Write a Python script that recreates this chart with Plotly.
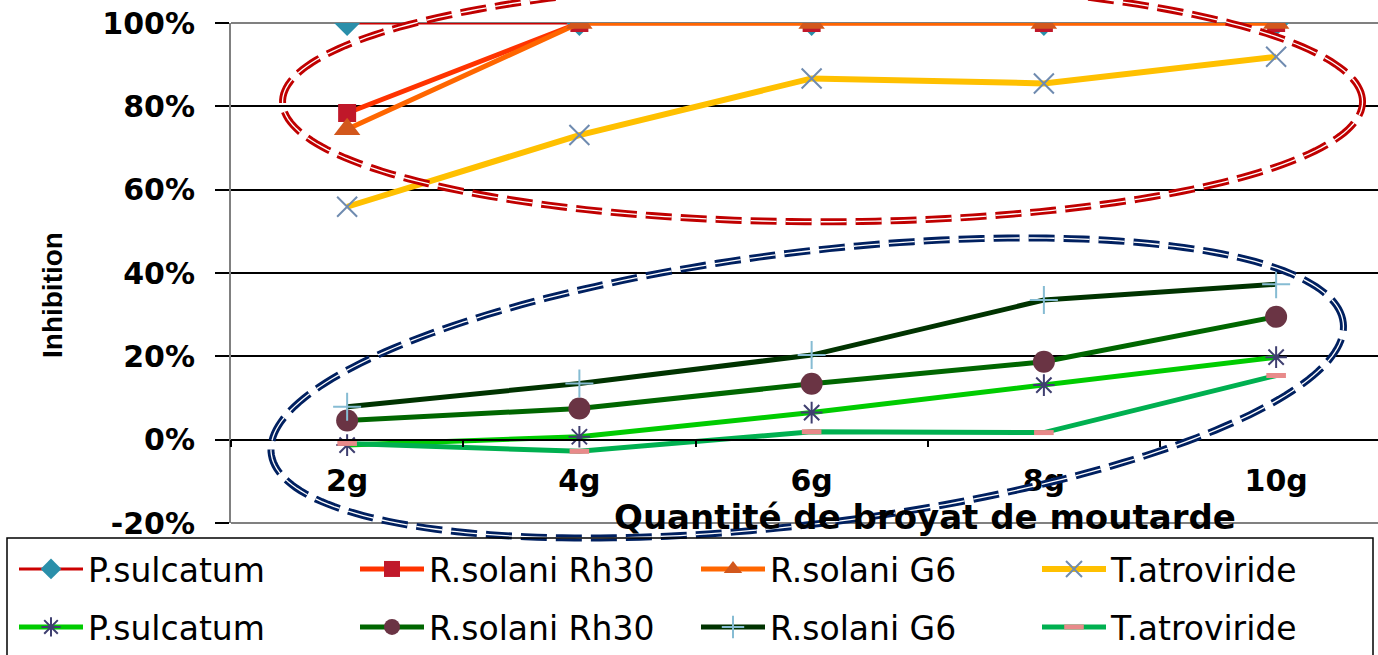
import numpy as np
import plotly.graph_objects as go

# ---- data -------------------------------------------------------------
doses = ["2g", "4g", "6g", "8g", "10g"]
names = ["P.sulcatum", "R.solani Rh30", "R.solani G6", "T.atroviride"]

# upper group of curves
ps_a = [1.00, 1.00, 1.00, 1.00, 1.00]
rh30_a = [0.784, 1.00, 1.00, 1.00, 1.00]
g6_a = [0.745, 1.00, 1.00, 1.00, 1.00]
ta_a = [0.559, 0.731, 0.867, 0.855, 0.919]

# lower group of curves
ps_b = [-0.013, 0.007, 0.065, 0.131, 0.198]
rh30_b = [0.046, 0.075, 0.134, 0.187, 0.295]
g6_b = [0.079, 0.135, 0.203, 0.335, 0.373]
ta_b = [-0.009, -0.028, 0.019, 0.017, 0.154]

y_ticks = [-0.2, 0.0, 0.2, 0.4, 0.6, 0.8, 1.0]
y_labels = ["-20%", "0%", "20%", "40%", "60%", "80%", "100%"]

# ---- geometry ---------------------------------------------------------
W, H = 1378, 655
ML, MR, MT, MB = 231, 0, 23, 132
PW, PH = W - ML - MR, H - MT - MB
X_STEP = 232.25                      # px per category
xr = [0.5, 0.5 + PW / X_STEP]
yr = [-0.2, 1.0]
Y_UNIT = PH / (yr[1] - yr[0])        # px per unit of y

xpos = list(range(1, len(doses) + 1))


def px_to_paper(px, py):
    return (px - ML) / PW, (H - MB - py) / PH


def data_to_paper(xd, yd):
    return (xd - xr[0]) / (xr[1] - xr[0]), (yd - yr[0]) / (yr[1] - yr[0])


def ellipse_path(cx, cy, a_px, b_px, tilt_deg, n=240):
    t = np.linspace(0, 2 * np.pi, n)
    th = np.radians(tilt_deg)
    dx = a_px * np.cos(t) * np.cos(th) - b_px * np.sin(t) * np.sin(th)
    dy = a_px * np.cos(t) * np.sin(th) + b_px * np.sin(t) * np.cos(th)
    xs = cx + dx / X_STEP
    ys = cy + dy / Y_UNIT
    pts = [data_to_paper(x, y) for x, y in zip(xs, ys)]
    return "M " + " L ".join(f"{p:.5f},{q:.5f}" for p, q in pts) + " Z"


fig = go.Figure()

styles_a = [
    dict(line=dict(color="#CC0000", width=3),
         marker=dict(symbol="diamond", size=20, color="#2A8FAA")),
    dict(line=dict(color="#FF3300", width=5),
         marker=dict(symbol="square", size=18, color="#C0182A")),
    dict(line=dict(color="#FF6600", width=5),
         marker=dict(symbol="triangle-up", size=23, color="#D2571C")),
    dict(line=dict(color="#FFC000", width=6),
         marker=dict(symbol="x-thin-open", size=20, color="#6F8BB0",
                     line=dict(width=2, color="#6F8BB0"))),
]
styles_b = [
    dict(line=dict(color="#00CC00", width=5),
         marker=dict(symbol="asterisk-open", size=18, color="#3F3F70",
                     line=dict(width=2, color="#3F3F70"))),
    dict(line=dict(color="#006600", width=5),
         marker=dict(symbol="circle", size=22, color="#6A3444")),
    dict(line=dict(color="#003300", width=5),
         marker=dict(symbol="cross-thin-open", size=20, color="#86BCD3",
                     line=dict(width=2, color="#86BCD3"))),
    dict(line=dict(color="#00B050", width=5),
         marker=dict(symbol="line-ew-open", size=14, color="#E88A8A",
                     line=dict(width=5, color="#E88A8A"))),
]

for name, vals, st in zip(names, [ps_a, rh30_a, g6_a, ta_a], styles_a):
    fig.add_trace(go.Scatter(x=xpos, y=vals, name=name, mode="lines+markers",
                             legend="legend", **st))
for name, vals, st in zip(names, [ps_b, rh30_b, g6_b, ta_b], styles_b):
    fig.add_trace(go.Scatter(x=xpos, y=vals, name=name, mode="lines+markers",
                             legend="legend2", **st))

# empty trace that carries the category label axis
fig.add_trace(go.Scatter(x=xpos, y=[None] * len(xpos), xaxis="x2",
                         mode="lines", showlegend=False, hoverinfo="skip"))

zero_pos = (0 - yr[0]) / (yr[1] - yr[0])

shapes = []
# plot-area frame (top and bottom)
for yy in (0, 1):
    shapes.append(dict(type="line", xref="paper", yref="paper", x0=0, x1=1,
                       y0=yy, y1=yy, line=dict(color="#808080", width=2),
                       layer="between"))

# highlight ellipses (double dashed outlines)
red = ellipse_path(3.047, 0.811, 540, 120, 0)
blue = ellipse_path(2.981, 0.124, 540, 136, 6.96)
for path, col in ((red, "#C00000"), (blue, "#002060")):
    shapes.append(dict(type="path", xref="paper", yref="paper", path=path,
                       line=dict(color=col, width=7, dash="26px,9px"),
                       layer="above"))
    shapes.append(dict(type="path", xref="paper", yref="paper", path=path,
                       line=dict(color="white", width=1.3, dash="26px,9px"),
                       layer="above"))

# legend box
lx0, ly1 = px_to_paper(7, 538)
lx1, ly0 = px_to_paper(1373, 662)
shapes.append(dict(type="rect", xref="paper", yref="paper", x0=lx0, x1=lx1,
                   y0=ly0, y1=ly1, line=dict(color="black", width=1.5)))

tick_font = dict(family="DejaVu Sans", size=30, color="black", weight="bold")
leg_font = dict(family="DejaVu Sans", size=33, color="black")

lgx, row1 = px_to_paper(18, 569)
_, row2 = px_to_paper(18, 627)

legend_common = dict(orientation="h", xanchor="left", yanchor="middle",
                     font=leg_font, itemwidth=64, entrywidth=262,
                     bgcolor="rgba(0,0,0,0)", borderwidth=0,
                     traceorder="normal")

fig.update_layout(
    width=W, height=H,
    margin=dict(l=ML, r=MR, t=MT, b=MB, pad=0),
    paper_bgcolor="white", plot_bgcolor="white",
    showlegend=True,
    xaxis=dict(range=xr, anchor="free", position=zero_pos,
               tickvals=[0.5, 1.5, 2.5, 3.5, 4.5, 5.5], ticks="outside",
               ticklen=7, tickwidth=1.5, tickcolor="black",
               showticklabels=False, showline=True, linecolor="black",
               linewidth=1.5, showgrid=False, zeroline=False, fixedrange=True),
    xaxis2=dict(range=xr, overlaying="x", anchor="free", position=zero_pos,
                tickvals=xpos, ticktext=doses, ticks="", showline=False,
                showgrid=False, zeroline=False, tickfont=tick_font,
                ticklabelstandoff=20, side="bottom"),
    yaxis=dict(range=yr, tickvals=y_ticks, ticktext=y_labels,
               ticks="outside", ticklen=14, tickwidth=1.5, tickcolor="black",
               showline=True, linecolor="#808080", linewidth=2,
               showgrid=True, gridcolor="black", gridwidth=1.5,
               zeroline=False, tickfont=tick_font, ticklabelstandoff=14),
    legend=dict(x=lgx, y=row1, **legend_common),
    legend2=dict(x=lgx, y=row2, **legend_common),
    shapes=shapes,
)

tx, ty = px_to_paper(925, 517)
fig.add_annotation(text="Quantité de broyat de moutarde", xref="paper",
                   yref="paper", x=tx, y=ty, xanchor="center",
                   yanchor="middle", showarrow=False,
                   font=dict(family="DejaVu Sans", size=34, color="black",
                             weight="bold"))
ax_, ay_ = px_to_paper(52, 295)
fig.add_annotation(text="Inhibition", xref="paper", yref="paper", x=ax_,
                   y=ay_, xanchor="center", yanchor="middle",
                   showarrow=False, textangle=-90,
                   font=dict(family="Liberation Sans", size=28,
                             color="black", weight="bold"))

fig.write_html("out.html")
